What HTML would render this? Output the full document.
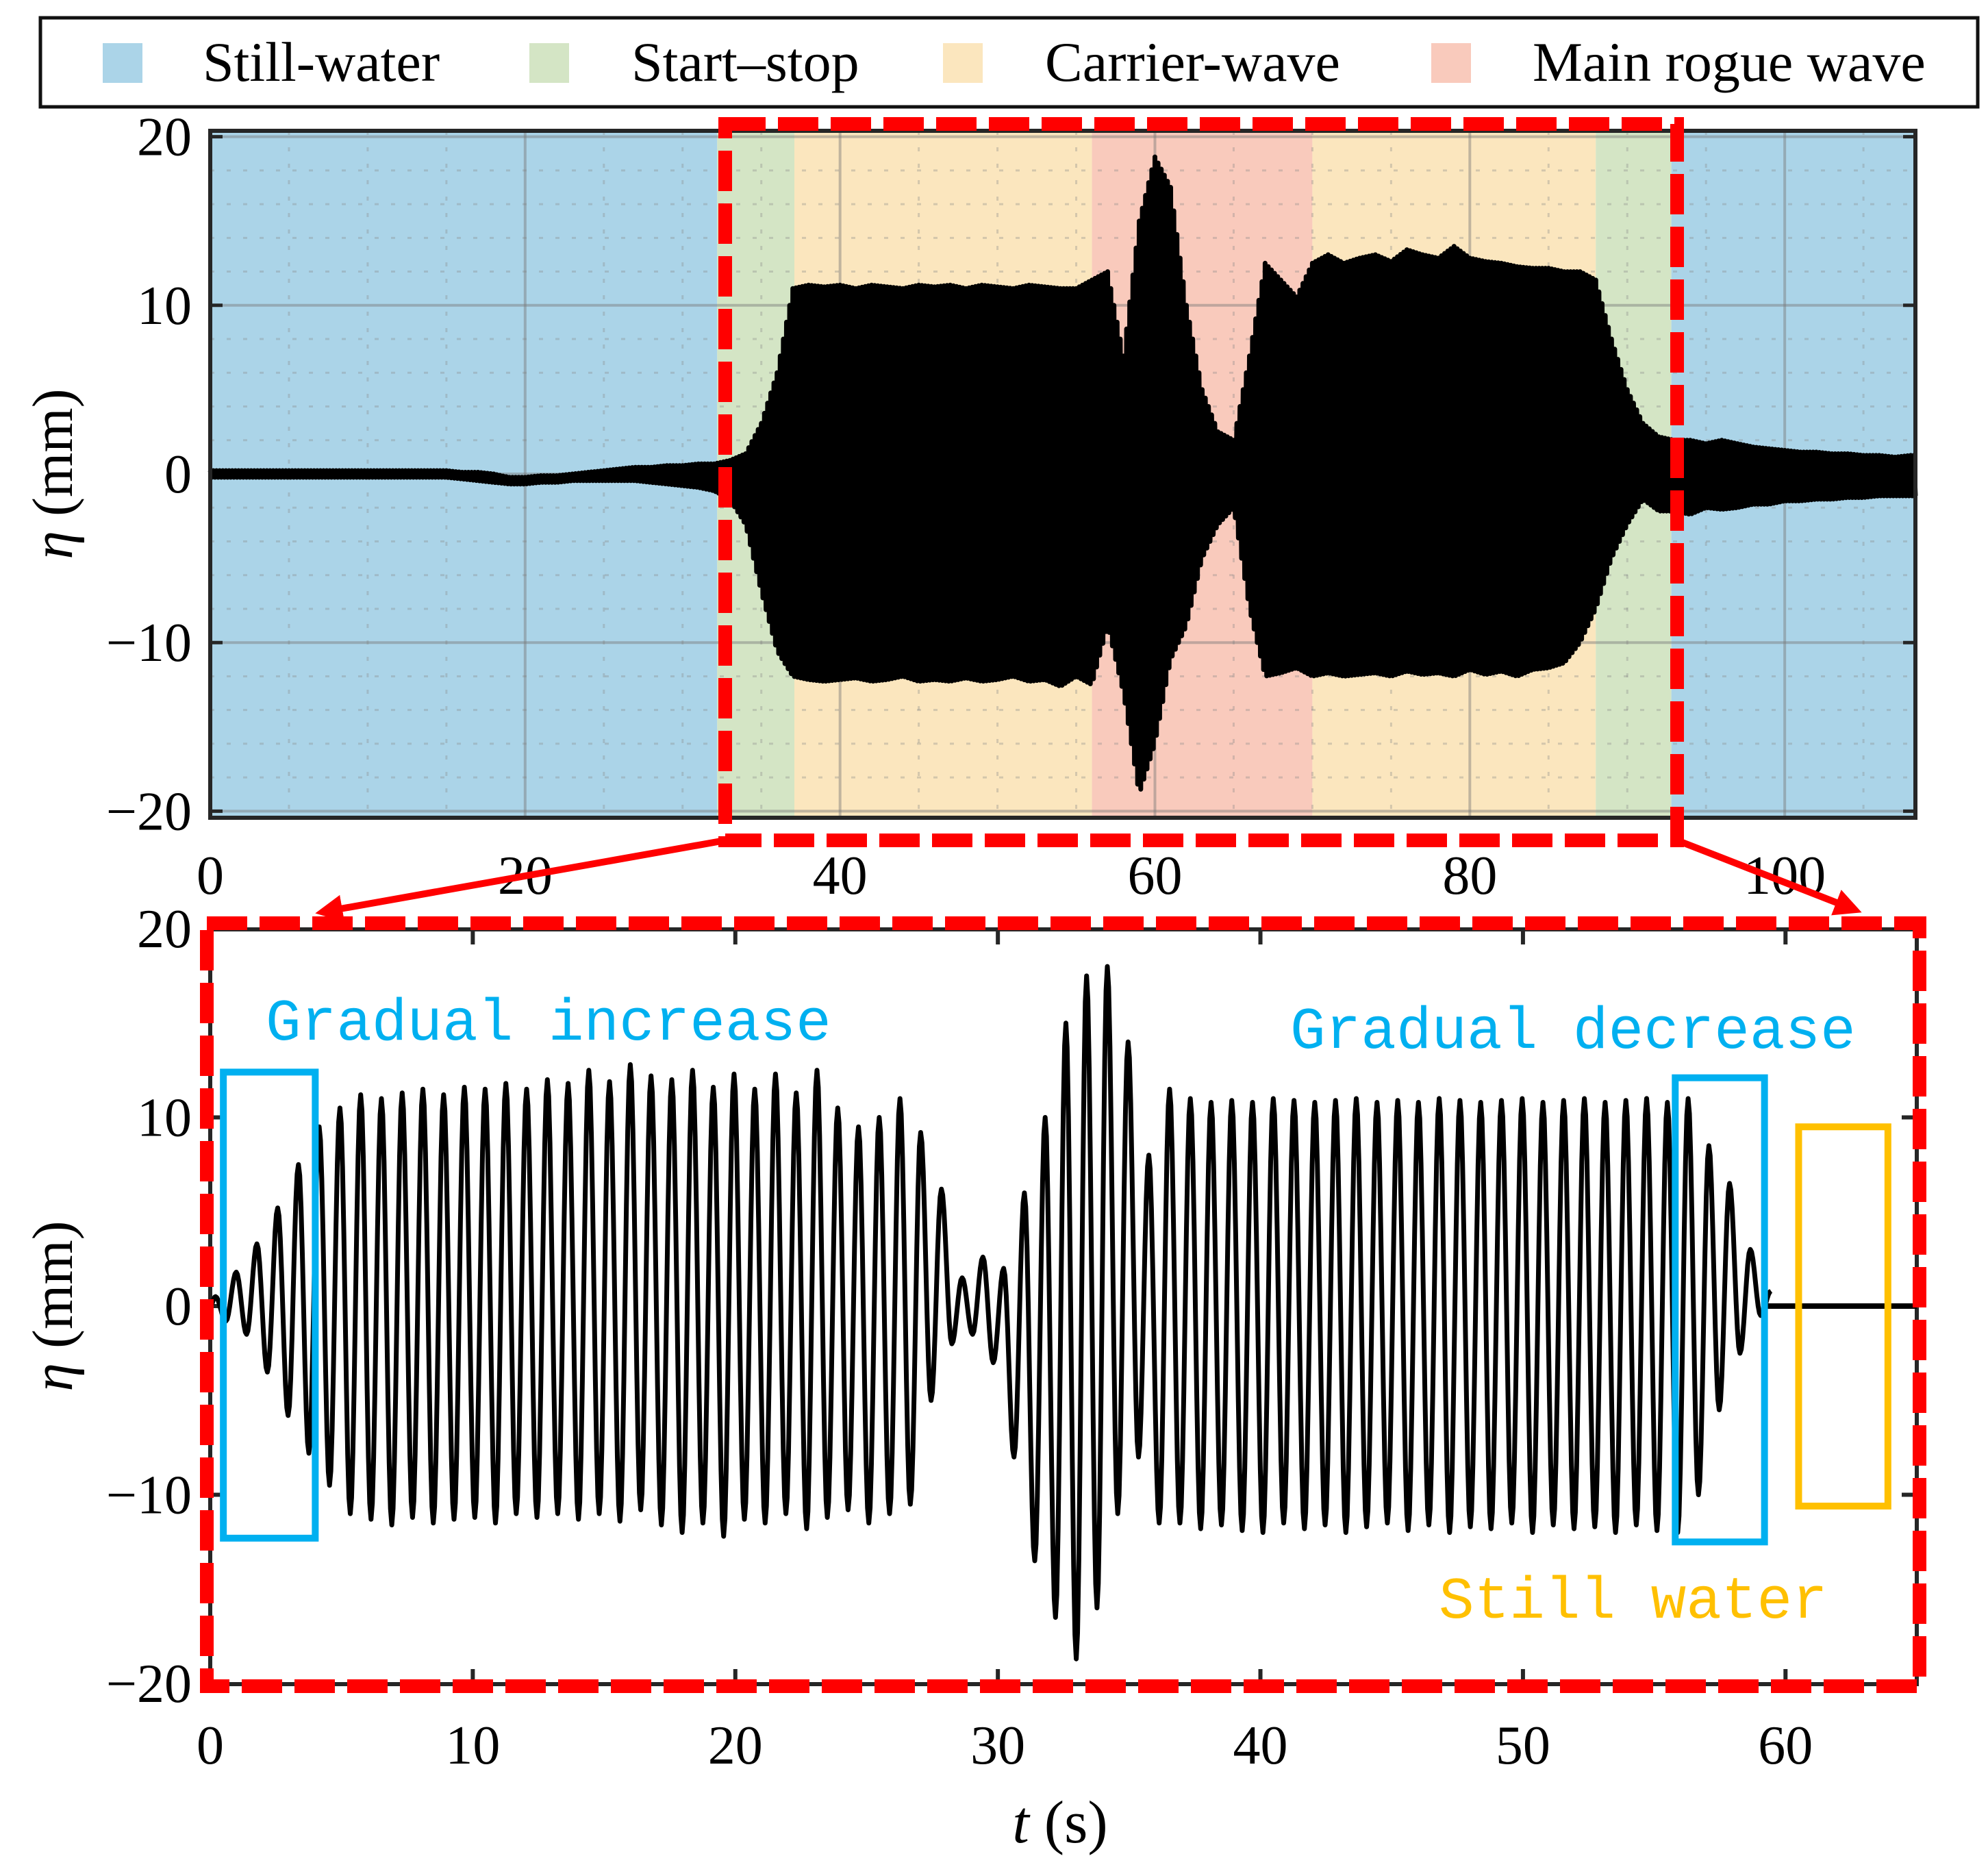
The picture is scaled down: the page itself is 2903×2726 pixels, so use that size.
<!DOCTYPE html>
<html><head><meta charset="utf-8">
<style>
html,body{margin:0;padding:0;background:#fff;}
svg{display:block;}
.serif{font-family:"Liberation Serif",serif;}
</style></head>
<body>
<svg id="fig" class="serif" xmlns="http://www.w3.org/2000/svg" width="2903" height="2726" viewBox="0 0 2903 2726" font-family="Liberation Serif, serif">
  <g id="legend">
    <rect x="59" y="26" width="2829" height="130" fill="#fff" stroke="#111" stroke-width="5"/>
    <rect x="150" y="63" width="58" height="58" fill="#abd4e8"/>
    <text x="296" y="118" font-size="82">Still-water</text>
    <rect x="773" y="63" width="58" height="58" fill="#d4e5c5"/>
    <text x="922" y="118" font-size="82">Start–stop</text>
    <rect x="1377" y="63" width="58" height="58" fill="#fbe6be"/>
    <text x="1526" y="118" font-size="82">Carrier-wave</text>
    <rect x="2090" y="63" width="58" height="58" fill="#f9cabc"/>
    <text x="2238" y="118" font-size="82">Main rogue wave</text>
  </g>
  <g id="topchart"></g>
  <g id="botchart"></g>
  <g id="overlay"></g>
</svg>
<script>
// ---------- data: top chart ----------
const regionStarts = [0, 32.2, 37.1, 56, 70, 88, 92.8];
const regionEnds   = [32.2, 37.1, 56, 70, 88, 92.8, 108.3];
const regionKinds  = ["still", "start", "carrier", "rogue", "carrier", "start", "still"];
const topXTicks = [0, 20, 40, 60, 80, 100];
const topYTicks = [20, 10, 0, -10, -20];
const topCrest = [0.2,0.2,0.2,0.2,0.2,0.2,0.2,0.2,0.2,0.2,0.2,0.2,0.2,0.2,0.2,0.2,0.1,0.1,0,-0.2,-0.2,-0.1,-0.1,0,0.1,0.2,0.3,0.4,0.4,0.5,0.5,0.6,
 0.6,0.8,1.2,3,6,11,11.2,11.1,11.2,11,11.2,11.1,11,11.2,11.1,11.2,11,11.2,11.1,11,11.2,11.1,11,11,11.5,12,7,15,18.8,17,10,5,2.5,2,7,12.5,11.5,10.5,12.5,13,12.5,12.8,13,12.6,13.3,13,12.8,13.5,12.8,12.6,12.5,12.3,12.2,12.2,12,12,11.5,8,5,3,2.2,
 2,2,1.8,2,1.8,1.6,1.5,1.4,1.3,1.3,1.2,1.2,1.1,1.1,1,1.1];
const topTrough = [-0.2,-0.2,-0.2,-0.2,-0.2,-0.2,-0.2,-0.2,-0.2,-0.2,-0.2,-0.2,-0.2,-0.2,-0.2,-0.2,-0.3,-0.4,-0.5,-0.6,-0.6,-0.5,-0.5,-0.4,-0.4,-0.4,-0.4,-0.4,-0.5,-0.6,-0.7,-0.8,
 -1,-1.5,-3,-7,-10.5,-12,-12.2,-12.3,-12.2,-12.1,-12.3,-12.2,-12,-12.3,-12.2,-12.3,-12.1,-12.3,-12.2,-12,-12.3,-12.2,-12.6,-12,-12.5,-9,-13,-19,-16,-11,-9,-5,-3,-2,-8,-12,-11.8,-11.5,-12,-11.8,-12,-11.9,-11.8,-12,-11.7,-11.9,-11.8,-12,-11.6,-11.9,-11.7,-12,-11.6,-11.5,-11.2,-10,-8,-5,-3,-1.5,
 -2.2,-2.2,-2.4,-2,-2.1,-2,-1.8,-1.8,-1.6,-1.6,-1.5,-1.5,-1.4,-1.4,-1.3,-1.3];
const topPeriod = 0.2;

// ---------- data: bottom chart ----------
const botXTicks = [0, 10, 20, 30, 40, 50, 60];
const botYTicks = [20, 10, 0, -10, -20];
const botCrest = [0.5,1.8,3.3,5.2,7.5,9.5,10.5,11.2,11,11.3,11.5,11.2,11.6,11.5,11.8,11.5,
 12,11.8,12.5,11.9,12.8,12.2,12,12.5,11.6,12.3,11.5,12.3,11.3,12.5,
 10.5,9.5,10,11,9.2,6.2,1.5,2.6,2,6,10,15,17.5,18,14,8,11.5,
 11,10.8,10.9,10.8,11,10.9,10.8,10.9,11,10.8,10.9,10.8,11,10.9,10.8,10.9,11,10.8,10.9,11,10.8,10.9,11,10.8,
 11,8.5,6.5,3,0.8];
const botTrough = [-0.8,-1.5,-3.5,-5.8,-7.8,-9.5,-11,-11.3,-11.6,-11.2,-11.5,-11.3,-11.2,-11.5,-11,
 -11.2,-11,-11.3,-11,-11.4,-10.8,-11.6,-12,-11.5,-12.2,-11.3,-11.5,-11,-11.8,
 -11.2,-10.8,-11.5,-11,-10.5,-5,-2,-1.5,-3,-8,-13.5,-16.5,-18.7,-16,-11,-8,-11.5,
 -11.5,-11.8,-11.6,-11.9,-12,-11.5,-11.8,-11.6,-12,-11.7,-11.5,-11.9,-11.6,-12,-11.7,-11.8,-11.5,-12,-11.6,-11.8,-11.7,-12,-11.6,-11.9,
 -12,-10,-5.5,-2.5,-0.5];
const botPeriod = 0.79;
const botStart = 0.2;
const boxT0 = [0.5, 55.8];
const boxT1 = [4.0, 59.2];
const boxYTop = [12.4, 12.1];
const boxYBot = [-12.3, -12.5];

const NS = "http://www.w3.org/2000/svg";
function mk(parent, tag, attrs, txt){
  const e = document.createElementNS(NS, tag);
  for (const k in attrs) e.setAttribute(k, attrs[k]);
  if (txt !== undefined) e.textContent = txt;
  parent.appendChild(e);
  return e;
}
const regionColor = {still:"#abd4e8", start:"#d4e5c5", carrier:"#fbe6be", rogue:"#f9cabc"};

// ---------- top chart ----------
const TA = {L:307, R:2797, Tp:191, B:1194, x0:0, x1:108.3};
const tx = t => TA.L + (t - TA.x0) / (TA.x1 - TA.x0) * (TA.R - TA.L);
const ty = v => 692 - v * 24.62;
const topG = document.getElementById('topchart');
for (let i = 0; i < regionStarts.length; i++) {
  const r = mk(topG, 'rect', {x: tx(regionStarts[i]), y: TA.Tp, width: tx(regionEnds[i]) - tx(regionStarts[i]), height: TA.B - TA.Tp, fill: regionColor[regionKinds[i]]});
  
  
}
for (let t = 5; t < 108; t += 5) {
  if (t % 20 === 0) continue;
  const l = mk(topG, 'line', {x1: tx(t), x2: tx(t), y1: TA.Tp, y2: TA.B, stroke: "#8a8a8a", 'stroke-opacity': 0.35, 'stroke-width': 3, 'stroke-dasharray': "6 18"});
  
  
}
for (let v = -18; v <= 18; v += 2) {
  if (v % 10 === 0) continue;
  const l = mk(topG, 'line', {x1: TA.L, x2: TA.R, y1: ty(v), y2: ty(v), stroke: "#8a8a8a", 'stroke-opacity': 0.35, 'stroke-width': 3, 'stroke-dasharray': "6 18"});
  
  
}
topXTicks.forEach(t => {
  const l = mk(topG, 'line', {x1: tx(t), x2: tx(t), y1: TA.Tp, y2: TA.B, stroke: "#777", 'stroke-opacity': 0.45, 'stroke-width': 4});
  
  
  const lb = mk(topG, 'text', {x: tx(t), y: 1305, 'font-size': 80, 'text-anchor': 'middle'}, String(t));
  
  
});
topYTicks.forEach(v => {
  const l = mk(topG, 'line', {x1: TA.L, x2: TA.R, y1: ty(v), y2: ty(v), stroke: "#777", 'stroke-opacity': 0.45, 'stroke-width': 4});
  
  
  const lb = mk(topG, 'text', {x: 280, y: ty(v) + 27, 'font-size': 80, 'text-anchor': 'end'}, v < 0 ? '\u2212' + (-v) : String(v));
  
  
  [TA.L, TA.R - 18].forEach(x => {
    const tk = mk(topG, 'line', {x1: x, x2: x + 18, y1: ty(v), y2: ty(v), stroke: "#262626", 'stroke-width': 5});
    
    
  });
});
function envAt(arr, t){
  const i = Math.floor(t), f = t - i;
  const a = arr[Math.min(i, arr.length - 1)], b = arr[Math.min(i + 1, arr.length - 1)];
  return a + (b - a) * f;
}
let d = "";
for (let t = 0, k = 0; t <= 108.3; t += topPeriod / 2, k++) {
  const v = (k % 2 === 0) ? envAt(topCrest, t) : envAt(topTrough, t);
  d += (k === 0 ? "M" : "L") + tx(t).toFixed(1) + " " + ty(v).toFixed(1);
}
const sig = mk(topG, 'path', {d: d, fill: "none", stroke: "#000", 'stroke-width': 7, 'stroke-linejoin': 'round'});


const fr = mk(topG, 'rect', {x: TA.L, y: TA.Tp, width: TA.R - TA.L, height: TA.B - TA.Tp, fill: "none", stroke: "#262626", 'stroke-width': 6});


const yl1 = mk(topG, 'text', {x: 0, y: 0, 'font-size': 84, 'text-anchor': 'middle', transform: 'translate(105 692) rotate(-90)'});


yl1.innerHTML = '<tspan font-style="italic">η</tspan> (mm)';

// ---------- bottom chart ----------
const BA = {L:307, R:2799, Tp:1357, Bt:2459};
const bx = t => BA.L + t / 65 * (BA.R - BA.L);
const by = v => 1907 - v * 27.55;
const botG = document.getElementById('botchart');
botYTicks.forEach(v => {
  const lb = mk(botG, 'text', {x: 280, y: by(v) + 27, 'font-size': 80, 'text-anchor': 'end'}, v < 0 ? '\u2212' + (-v) : String(v));
  
  
  [BA.L, BA.R - 22].forEach(x => {
    const tk = mk(botG, 'line', {x1: x, x2: x + 22, y1: by(v), y2: by(v), stroke: "#262626", 'stroke-width': 6});
    
    
  });
});
botXTicks.forEach(t => {
  const lb = mk(botG, 'text', {x: bx(t), y: 2575, 'font-size': 80, 'text-anchor': 'middle'}, String(t));
  
  
  [[BA.Tp, BA.Tp + 22], [BA.Bt - 22, BA.Bt]].forEach(p => {
    const tk = mk(botG, 'line', {x1: bx(t), x2: bx(t), y1: p[0], y2: p[1], stroke: "#262626", 'stroke-width': 6});
    
    
  });
});
const bfr = mk(botG, 'rect', {x: BA.L, y: BA.Tp, width: BA.R - BA.L, height: BA.Bt - BA.Tp, fill: "none", stroke: "#262626", 'stroke-width': 6});


const ext = [[0, 0]];
for (let k = 0; k < botCrest.length; k++) {
  ext.push([botStart + k * botPeriod, botCrest[k]]);
  ext.push([botStart + k * botPeriod + botPeriod / 2, botTrough[k]]);
}
const lastT = ext[ext.length - 1][0];
ext.push([lastT + botPeriod / 2, 0]);
let bd = "";
for (let i = 0; i < ext.length - 1; i++) {
  const [t0, v0] = ext[i], [t1, v1] = ext[i + 1];
  const n = 8;
  for (let j = (i === 0 ? 0 : 1); j <= n; j++) {
    const f = j / n, t = t0 + (t1 - t0) * f;
    const v = v0 + (v1 - v0) * (1 - Math.cos(Math.PI * f)) / 2;
    bd += (bd === "" ? "M" : "L") + bx(t).toFixed(1) + " " + by(v).toFixed(1);
  }
}
const bsig = mk(botG, 'path', {d: bd, fill: "none", stroke: "#000", 'stroke-width': 7, 'stroke-linejoin': 'round'});


const flat = mk(botG, 'line', {x1: bx(59.3), x2: bx(65), y1: by(0), y2: by(0), stroke: "#000", 'stroke-width': 8});


for (let i = 0; i < boxT0.length; i++) {
  const r = mk(botG, 'rect', {x: bx(boxT0[i]), y: by(boxYTop[i]), width: bx(boxT1[i]) - bx(boxT0[i]), height: by(boxYBot[i]) - by(boxYTop[i]), fill: "none", stroke: "#00b0f0", 'stroke-width': 10});
  
  
}
const ob = mk(botG, 'rect', {x: bx(60.5), y: by(9.5), width: bx(63.9) - bx(60.5), height: by(-10.6) - by(9.5), fill: "none", stroke: "#ffc000", 'stroke-width': 10});


const yl2 = mk(botG, 'text', {x: 0, y: 0, 'font-size': 84, 'text-anchor': 'middle', transform: 'translate(105 1907) rotate(-90)'});


yl2.innerHTML = '<tspan font-style="italic">η</tspan> (mm)';
const xl = mk(botG, 'text', {x: 1548, y: 2690, 'font-size': 88, 'text-anchor': 'middle'});


xl.innerHTML = '<tspan font-style="italic">t</tspan> (s)';
const monoStyle = 'font-family:"Liberation Mono",monospace';
const a1 = mk(botG, 'text', {x: 388, y: 1518, 'font-size': 86, fill: "#00b0f0", style: monoStyle}, "Gradual increase");


const a2 = mk(botG, 'text', {x: 1884, y: 1530, 'font-size': 86, fill: "#00b0f0", style: monoStyle}, "Gradual decrease");


const a3 = mk(botG, 'text', {x: 2101, y: 2362, 'font-size': 86, fill: "#ffc000", style: monoStyle}, "Still water");



// ---------- overlay ----------
const ov = document.getElementById('overlay');
const dash = {fill: "none", stroke: "#ff0000", 'stroke-width': 20, 'stroke-dasharray': "59 18"};
const z1 = mk(ov, 'rect', Object.assign({x: 1059, y: 181, width: 1390, height: 1046}, dash));


const z2 = mk(ov, 'rect', Object.assign({x: 302, y: 1348, width: 2501, height: 1114}, dash));


const defs = mk(ov, 'defs', {});
defs.innerHTML = '<marker id="ah" markerWidth="4" markerHeight="4" refX="2" refY="2" orient="auto" markerUnits="strokeWidth"><path d="M0,0 L4,2 L0,4 z" fill="#ff0000"/></marker>';
const ar1 = mk(ov, 'line', {x1: 1059, y1: 1227, x2: 480, y2: 1330, stroke: "#ff0000", 'stroke-width': 10, 'marker-end': 'url(#ah)'});


const ar2 = mk(ov, 'line', {x1: 2449, y1: 1227, x2: 2700, y2: 1325, stroke: "#ff0000", 'stroke-width': 10, 'marker-end': 'url(#ah)'});


</script>
</body></html>
